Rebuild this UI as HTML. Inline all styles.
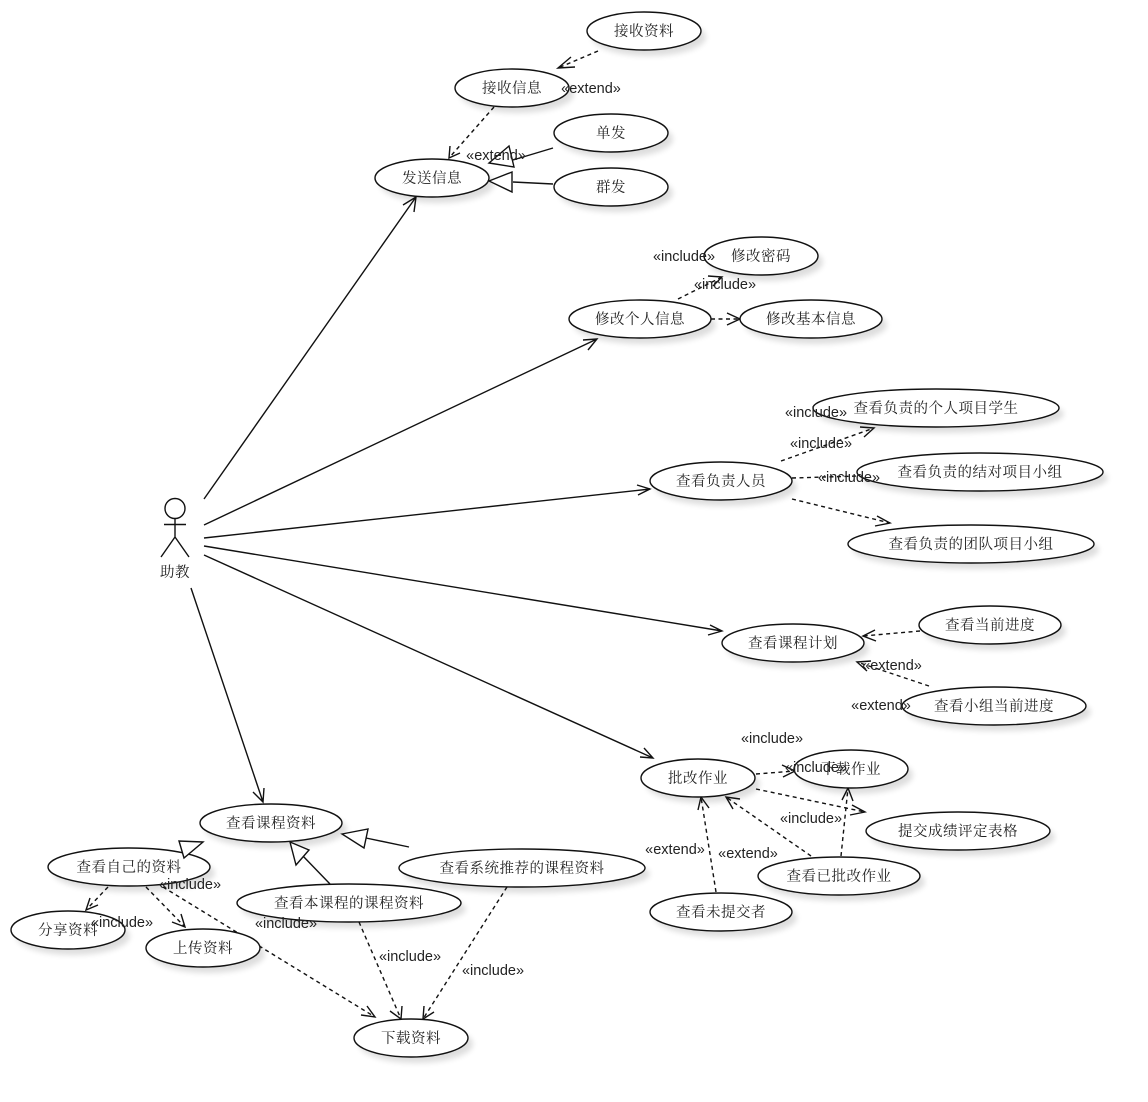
<!DOCTYPE html>
<html>
<head>
<meta charset="utf-8">
<style>
html,body{margin:0;padding:0;background:#fff;width:1148px;height:1102px;overflow:hidden}
svg{display:block}
.c{font-family:"Noto Serif CJK SC","Liberation Serif",serif;font-size:14.5px;text-anchor:middle;fill:#222;letter-spacing:.5px}
.l{font-family:"Liberation Sans",sans-serif;font-size:14.5px;text-anchor:middle;fill:#222}
.s{fill:#000;opacity:.13}
.e{fill:#fff;stroke:#111;stroke-width:1.4}
.a{fill:none;stroke:#111;stroke-width:1.4}
.d{fill:none;stroke:#111;stroke-width:1.4;stroke-dasharray:4 3.5}
.t{fill:#fff;stroke:#111;stroke-width:1.4}
</style>
</head>
<body>
<svg width="1148" height="1102" viewBox="0 0 1148 1102" xmlns="http://www.w3.org/2000/svg">
<defs><filter id="b" x="-20%" y="-40%" width="140%" height="180%"><feGaussianBlur stdDeviation="3"/></filter></defs>

<!-- shadows -->
<g class="s" filter="url(#b)">
<ellipse cx="649" cy="37" rx="57" ry="19"/>
<ellipse cx="517" cy="94" rx="57" ry="19"/>
<ellipse cx="616" cy="139" rx="57" ry="19"/>
<ellipse cx="437" cy="184" rx="57" ry="19"/>
<ellipse cx="616" cy="193" rx="57" ry="19"/>
<ellipse cx="766" cy="262" rx="57" ry="19"/>
<ellipse cx="645" cy="325" rx="71" ry="19"/>
<ellipse cx="816" cy="325" rx="71" ry="19"/>
<ellipse cx="941" cy="414" rx="123" ry="19"/>
<ellipse cx="985" cy="478" rx="123" ry="19"/>
<ellipse cx="976" cy="550" rx="123" ry="19"/>
<ellipse cx="726" cy="487" rx="71" ry="19"/>
<ellipse cx="798" cy="649" rx="71" ry="19"/>
<ellipse cx="995" cy="631" rx="71" ry="19"/>
<ellipse cx="999" cy="712" rx="92" ry="19"/>
<ellipse cx="703" cy="784" rx="57" ry="19"/>
<ellipse cx="856" cy="775" rx="57" ry="19"/>
<ellipse cx="963" cy="837" rx="92" ry="19"/>
<ellipse cx="844" cy="882" rx="81" ry="19"/>
<ellipse cx="726" cy="918" rx="71" ry="19"/>
<ellipse cx="276" cy="829" rx="71" ry="19"/>
<ellipse cx="134" cy="873" rx="81" ry="19"/>
<ellipse cx="527" cy="874" rx="123" ry="19"/>
<ellipse cx="354" cy="909" rx="112" ry="19"/>
<ellipse cx="73" cy="936" rx="57" ry="19"/>
<ellipse cx="208" cy="954" rx="57" ry="19"/>
<ellipse cx="416" cy="1044" rx="57" ry="19"/>
</g>

<!-- solid association arrows -->
<path class="a" d="M204 499L416 197M403 205L416 197L414 212"/>
<path class="a" d="M204 525L597 339M583 340L597 339L588 350"/>
<path class="a" d="M204 538L650 489M637 485L650 489L638 495"/>
<path class="a" d="M204 546L722 631M710 625L722 631L708 635"/>
<path class="a" d="M204 555L653 758M640 757L653 758L644 748"/>
<path class="a" d="M191 588L263 802M253 792L263 802L264 788"/>

<!-- dashed -->
<path class="d" d="M598 51L558 68"/><path class="a" d="M571 57L558 68L575 67"/>
<path class="d" d="M494 107L449 158"/><path class="a" d="M450 146L449 158L460 153"/>
<path class="d" d="M678 299L722 277"/><path class="a" d="M708 276L722 277L713 286"/>
<path class="d" d="M711 319L740 319"/><path class="a" d="M727 313L740 319L727 325"/>
<path class="d" d="M781 461L874 428"/><path class="a" d="M860 427L874 428L864 437"/>
<path class="d" d="M792 478L858 476"/>
<path class="d" d="M792 499L890 523"/><path class="a" d="M877 516L890 523L875 526"/>
<path class="d" d="M920 631L863 636"/><path class="a" d="M875 630L863 636L876 641"/>
<path class="d" d="M929 686L857 662"/><path class="a" d="M871 661L857 662L867 671"/>
<path class="d" d="M756 774L795 771"/><path class="a" d="M782 765L795 771L783 777"/>
<path class="d" d="M756 789L865 812"/><path class="a" d="M852 805L865 812L850 815"/>
<path class="d" d="M811 856L726 797"/><path class="a" d="M740 799L726 797L733 809"/>
<path class="d" d="M841 856L848 788"/><path class="a" d="M842 800L848 788L853 801"/>
<path class="d" d="M716 892L701 797"/><path class="a" d="M698 810L701 797L709 808"/>
<path class="d" d="M108 887L86 910"/><path class="a" d="M90 898L86 910L98 905"/>
<path class="d" d="M146 887L185 927"/><path class="a" d="M172 922L185 927L181 914"/>
<path class="d" d="M163 887L375 1017"/><path class="a" d="M361 1015L375 1017L367 1006"/>
<path class="d" d="M359 922L401 1019"/><path class="a" d="M390 1011L401 1019L402 1006"/>
<path class="d" d="M507 887L423 1019"/><path class="a" d="M424 1006L423 1019L434 1012"/>

<!-- ellipses -->
<ellipse class="e" cx="644" cy="31" rx="57" ry="19"/>
<ellipse class="e" cx="512" cy="88" rx="57" ry="19"/>
<ellipse class="e" cx="611" cy="133" rx="57" ry="19"/>
<ellipse class="e" cx="432" cy="178" rx="57" ry="19"/>
<ellipse class="e" cx="611" cy="187" rx="57" ry="19"/>
<ellipse class="e" cx="761" cy="256" rx="57" ry="19"/>
<ellipse class="e" cx="640" cy="319" rx="71" ry="19"/>
<ellipse class="e" cx="811" cy="319" rx="71" ry="19"/>
<ellipse class="e" cx="936" cy="408" rx="123" ry="19"/>
<ellipse class="e" cx="980" cy="472" rx="123" ry="19"/>
<ellipse class="e" cx="971" cy="544" rx="123" ry="19"/>
<ellipse class="e" cx="721" cy="481" rx="71" ry="19"/>
<ellipse class="e" cx="793" cy="643" rx="71" ry="19"/>
<ellipse class="e" cx="990" cy="625" rx="71" ry="19"/>
<ellipse class="e" cx="994" cy="706" rx="92" ry="19"/>
<ellipse class="e" cx="698" cy="778" rx="57" ry="19"/>
<ellipse class="e" cx="851" cy="769" rx="57" ry="19"/>
<ellipse class="e" cx="958" cy="831" rx="92" ry="19"/>
<ellipse class="e" cx="839" cy="876" rx="81" ry="19"/>
<ellipse class="e" cx="721" cy="912" rx="71" ry="19"/>
<ellipse class="e" cx="271" cy="823" rx="71" ry="19"/>
<ellipse class="e" cx="129" cy="867" rx="81" ry="19"/>
<ellipse class="e" cx="522" cy="868" rx="123" ry="19"/>
<ellipse class="e" cx="349" cy="903" rx="112" ry="19"/>
<ellipse class="e" cx="68" cy="930" rx="57" ry="19"/>
<ellipse class="e" cx="203" cy="948" rx="57" ry="19"/>
<ellipse class="e" cx="411" cy="1038" rx="57" ry="19"/>

<!-- generalizations -->
<path class="a" d="M553 148L513 160"/><polygon class="t" points="489,163 509,146 514,167"/>
<path class="a" d="M553 184L513 182"/><polygon class="t" points="489,181 512,172 512,192"/>
<path class="a" d="M409 847L366 838"/><polygon class="t" points="342,834 368,829 364,848"/>
<path class="a" d="M330 884L302 855"/><polygon class="t" points="290,842 309,850 296,865"/>
<polygon class="t" points="203,842 179,841 184,858"/>

<!-- actor -->
<circle class="a" cx="175" cy="508.500" r="10"/>
<path class="a" d="M175 519V537M164 524.500H186M175 537L161 557M175 537L189 557"/>
<text class="c" x="175" y="577">助教</text>

<!-- ellipse labels -->
<text class="c" x="644" y="36">接收资料</text>
<text class="c" x="512" y="93">接收信息</text>
<text class="c" x="611" y="138">单发</text>
<text class="c" x="432" y="183">发送信息</text>
<text class="c" x="611" y="192">群发</text>
<text class="c" x="761" y="261">修改密码</text>
<text class="c" x="640" y="324">修改个人信息</text>
<text class="c" x="811" y="324">修改基本信息</text>
<text class="c" x="936" y="413">查看负责的个人项目学生</text>
<text class="c" x="980" y="477">查看负责的结对项目小组</text>
<text class="c" x="971" y="549">查看负责的团队项目小组</text>
<text class="c" x="721" y="486">查看负责人员</text>
<text class="c" x="793" y="648">查看课程计划</text>
<text class="c" x="990" y="630">查看当前进度</text>
<text class="c" x="994" y="711">查看小组当前进度</text>
<text class="c" x="698" y="783">批改作业</text>
<text class="c" x="851" y="774">下载作业</text>
<text class="c" x="958" y="836">提交成绩评定表格</text>
<text class="c" x="839" y="881">查看已批改作业</text>
<text class="c" x="721" y="917">查看未提交者</text>
<text class="c" x="271" y="828">查看课程资料</text>
<text class="c" x="129" y="872">查看自己的资料</text>
<text class="c" x="522" y="873">查看系统推荐的课程资料</text>
<text class="c" x="349" y="908">查看本课程的课程资料</text>
<text class="c" x="68" y="935">分享资料</text>
<text class="c" x="203" y="953">上传资料</text>
<text class="c" x="411" y="1043">下载资料</text>

<!-- stereotype labels -->
<text class="l" x="591" y="93">«extend»</text>
<text class="l" x="496" y="160">«extend»</text>
<text class="l" x="684" y="261">«include»</text>
<text class="l" x="725" y="289">«include»</text>
<text class="l" x="816" y="417">«include»</text>
<text class="l" x="821" y="448">«include»</text>
<text class="l" x="849" y="482">«include»</text>
<text class="l" x="892" y="670">«extend»</text>
<text class="l" x="881" y="710">«extend»</text>
<text class="l" x="772" y="743">«include»</text>
<text class="l" x="816" y="772">«include»</text>
<text class="l" x="811" y="823">«include»</text>
<text class="l" x="675" y="854">«extend»</text>
<text class="l" x="748" y="858">«extend»</text>
<text class="l" x="190" y="889">«include»</text>
<text class="l" x="122" y="927">«include»</text>
<text class="l" x="286" y="928">«include»</text>
<text class="l" x="410" y="961">«include»</text>
<text class="l" x="493" y="975">«include»</text>
</svg>
</body>
</html>
